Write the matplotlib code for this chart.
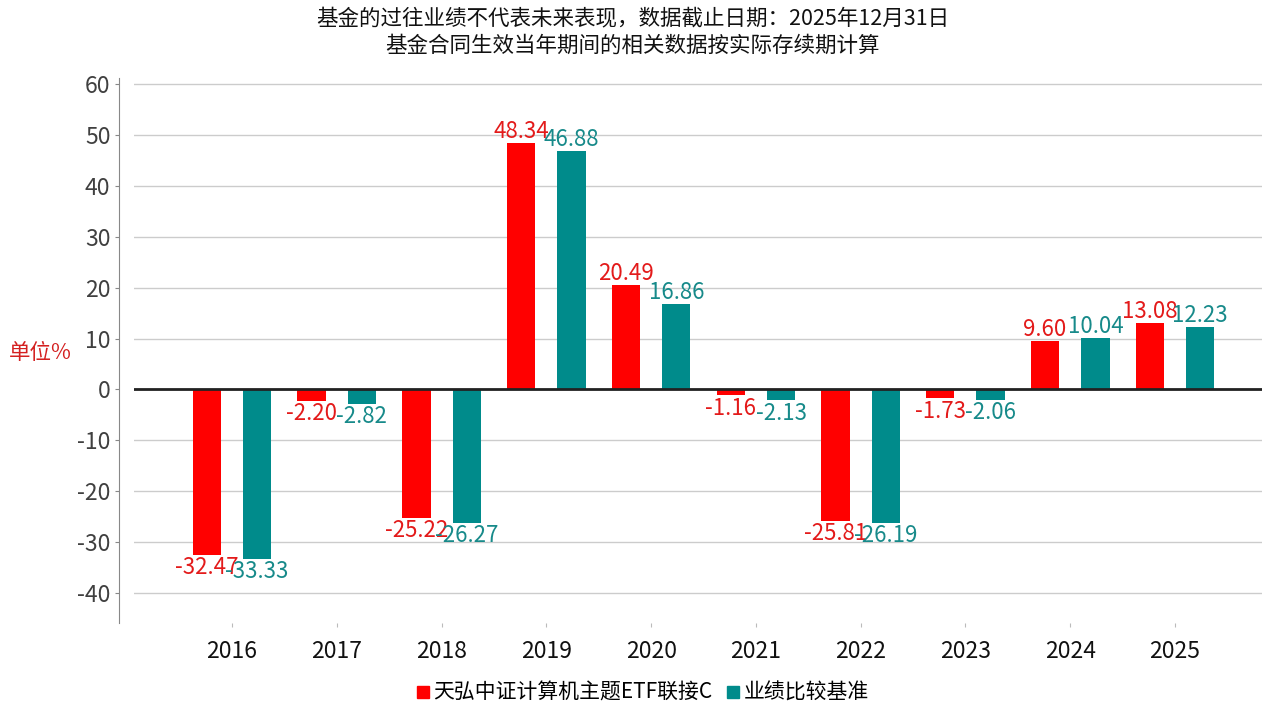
import matplotlib
matplotlib.use('Agg')
import matplotlib.pyplot as plt
import numpy as np
from matplotlib.lines import Line2D

plt.rcParams['font.family'] = ['Noto Sans CJK SC', 'DejaVu Sans']
plt.rcParams['axes.unicode_minus'] = False

years = ['2016', '2017', '2018', '2019', '2020', '2021', '2022', '2023', '2024', '2025']
fund = [-32.47, -2.20, -25.22, 48.34, 20.49, -1.16, -25.81, -1.73, 9.60, 13.08]
bench = [-33.33, -2.82, -26.27, 46.88, 16.86, -2.13, -26.19, -2.06, 10.04, 12.23]
fund_name = '天弘中证计算机主题ETF联接C'
bench_name = '业绩比较基准'
title = '基金的过往业绩不代表未来表现，数据截止日期：2025年12月31日\n基金合同生效当年期间的相关数据按实际存续期计算'

red = '#FF0000'
teal = '#008B8B'

fig = plt.figure(figsize=(12.65, 7.1), dpi=100)
ax = fig.add_axes([134 / 1265, 1 - 623 / 710, (1262 - 134) / 1265, (623 - 78) / 710])

x = np.arange(len(years))
off = 0.24
w = 0.27
ax.bar(x - off, fund, w, color=red, zorder=2)
ax.bar(x + off, bench, w, color=teal, zorder=2)

for xi, v in zip(x, fund):
    ax.annotate(f'{v:.2f}', (xi - off, v), xytext=(0, 0 if v >= 0 else -1),
                textcoords='offset points', ha='center',
                va='bottom' if v >= 0 else 'top', color='#E31A1A', fontsize=16)
for xi, v in zip(x, bench):
    ax.annotate(f'{v:.2f}', (xi + off, v), xytext=(0, 0 if v >= 0 else -1),
                textcoords='offset points', ha='center',
                va='bottom' if v >= 0 else 'top', color='#178A8A', fontsize=16)

ax.axhline(0, color='#222222', linewidth=2, zorder=3)
ax.set_ylim(-45.9, 61.2)
ax.set_xlim(-0.935, 9.83)
ax.set_yticks(np.arange(-40, 61, 10))
ax.set_xticks(x)
ax.set_xticklabels(years)
ax.grid(axis='y', color='#CCCCCC', linewidth=1, zorder=0)
ax.set_axisbelow(True)

for s in ['top', 'right', 'bottom']:
    ax.spines[s].set_visible(False)
ax.spines['left'].set_position(('outward', 11))
ax.spines['left'].set_color('#888888')
ax.tick_params(axis='y', labelsize=16.5, colors='#888888', labelcolor='#404040', length=3, pad=3)
ax.tick_params(axis='x', labelsize=16.5, colors='#BBBBBB', labelcolor='#111111', length=3, pad=9)

fig.text(40 / 1265, 1 - 353 / 710, '单位%', color='#D42020', fontsize=15.5, ha='center', va='center')
fig.text(0.5, 1 - 32 / 710, title, ha='center', va='center', fontsize=15.5, linespacing=1.32, color='#111111')

handles = [Line2D([], [], marker='s', linestyle='none', color=red, markersize=8),
           Line2D([], [], marker='s', linestyle='none', color=teal, markersize=8)]
fig.legend(handles, [fund_name, bench_name], loc='center', bbox_to_anchor=(0.507, 1 - 693 / 710),
           ncol=2, frameon=False, fontsize=15, handletextpad=0.1, columnspacing=0.6,
           handlelength=0.8)

fig.savefig('out.png', dpi=100)
